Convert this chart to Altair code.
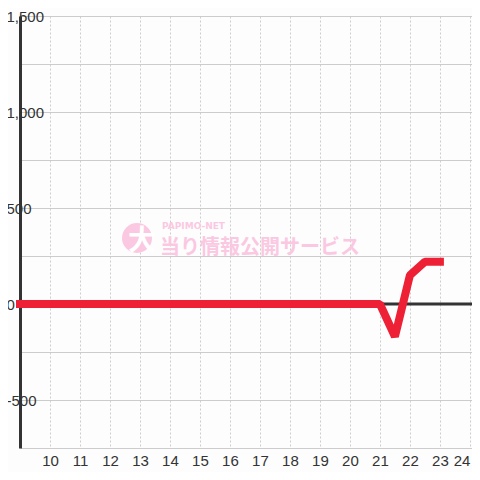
import altair as alt
import pandas as pd

# data
hours = [9, 9.5, 10, 10.5, 11, 11.5, 12, 12.5, 13, 13.5, 14, 14.5, 15, 15.5, 16, 16.5,
         17, 17.5, 18, 18.5, 19, 19.5, 20, 20.5, 21, 21.5, 22, 22.5, 23]
values = [0] * 25 + [-170, 150, 220, 220]
x_ticks = list(range(10, 25))
y_ticks = [-750, -500, -250, 0, 250, 500, 750, 1000, 1250, 1500]

df = pd.DataFrame({"h": hours, "v": values})

xs = alt.Scale(domain=[9, 24.07], nice=False, zero=False)
ys = alt.Scale(domain=[-750, 1500], nice=False)

label_expr = ("datum.value % 500 == 0 ? (datum.value < 0 ? '-' + format(-datum.value, ',') "
              ": format(datum.value, ',')) : ''")

base = alt.Chart(df)

line = base.mark_line(color="#EE2035", strokeWidth=8, strokeCap="square", strokeJoin="bevel").encode(
    x=alt.X("h:Q", scale=xs, title=None,
            axis=alt.Axis(values=x_ticks, grid=True, gridDash=[2, 2], gridColor="#cccccc",
                          domain=False, ticks=False, labelFontSize=15, labelColor="#333333",
                          labelPadding=5, labelFont="Liberation Sans", labelFlush=6)),
    y=alt.Y("v:Q", scale=ys, title=None,
            axis=alt.Axis(values=y_ticks, grid=True, gridColor="#cccccc", domain=True,
                          domainColor="#333333", domainWidth=3, ticks=False,
                          labelExpr=label_expr, labelAlign="left", labelPadding=14,
                          labelFontSize=15, labelColor="#333333", labelFont="Liberation Sans")),
)

zero = alt.Chart(pd.DataFrame({"z": [0]})).mark_rule(color="#333333", strokeWidth=3).encode(
    y=alt.Y("z:Q", scale=ys)
)

wm_pink = "#fbc8e2"
circle = alt.Chart(pd.DataFrame({"a": [0]})).mark_point(
    shape="circle", filled=True, size=900, color=wm_pink, opacity=1
).encode(x=alt.value(117), y=alt.value(222))
big = alt.Chart(pd.DataFrame({"t": ["大"]})).mark_text(
    fontSize=28, fontWeight="bold", color="#ffffff", font="Noto Sans CJK JP"
).encode(x=alt.value(122), y=alt.value(226), text="t:N")
small = alt.Chart(pd.DataFrame({"t": ["PAPIMO-NET"]})).mark_text(
    fontSize=9, fontWeight="bold", color=wm_pink, align="left", font="DejaVu Sans"
).encode(x=alt.value(142), y=alt.value(210), text="t:N")
main = alt.Chart(pd.DataFrame({"t": ["当り情報公開サービス"]})).mark_text(
    fontSize=20, fontWeight="bold", color=wm_pink, align="left", font="Noto Sans CJK JP"
).encode(x=alt.value(140), y=alt.value(232), text="t:N")

chart = alt.layer(zero, circle, big, small, main, line).properties(
    width=452, height=432,
    padding={"left": 12, "top": 8, "right": 0, "bottom": 24},
    autosize=alt.AutoSizeParams(type="none"),
    background="#fdfdfd",
).configure_view(stroke=None)

chart.save("out.html", embed_options={"renderer": "svg", "actions": False})
